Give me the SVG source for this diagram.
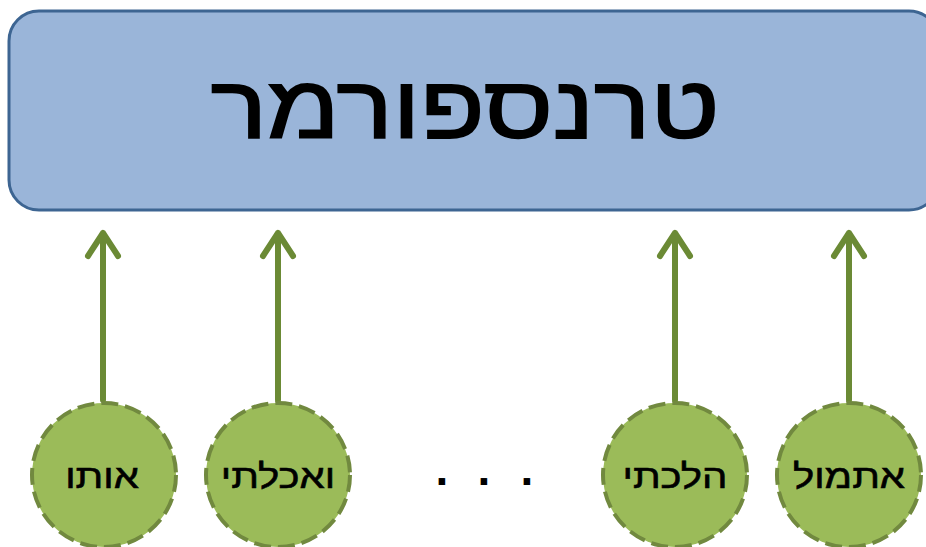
<svg xmlns="http://www.w3.org/2000/svg" width="926" height="547" viewBox="0 0 926 547">
<style>
.lbl{font-family:"Liberation Sans","DejaVu Sans",sans-serif;font-size:34px;fill:#000;stroke:#000;stroke-width:0.6;text-anchor:middle}
.tok{fill:#9bbb59;stroke:#71893f;stroke-width:4;stroke-dasharray:17 7}
.arr{fill:none;stroke:#6b8a35;stroke-width:6;stroke-linecap:round;stroke-linejoin:round}
</style>
<rect width="926" height="547" fill="#fff"/>
<g id="transformer">
<rect x="9" y="11" width="930" height="199" rx="30" ry="30" fill="#9ab5d9" stroke="#3d6592" stroke-width="3"/>
<text transform="translate(465 138) scale(1.2 1)" x="0" y="0" font-family="'Liberation Sans','DejaVu Sans',sans-serif" font-size="88" stroke="#000" stroke-width="1.8" text-anchor="middle" direction="rtl">טרנספורמר</text>
</g>
<g id="connectors">
<path class="arr" d="M103 400V233M88 256L103 233L118 256"/>
<path class="arr" d="M278 400V233M263 256L278 233L293 256"/>
<path class="arr" d="M675 400V233M660 256L675 233L690 256"/>
<path class="arr" d="M849 400V233M834 256L849 233L864 256"/>
</g>
<g id="n1"><circle class="tok" cx="104" cy="475" r="72"/><text class="lbl" transform="translate(102 488) scale(1.18 1)" direction="rtl">אותו</text></g>
<g id="n2"><circle class="tok" cx="278" cy="475" r="72"/><text class="lbl" transform="translate(278 488) scale(1.18 1)" direction="rtl">ואכלתי</text></g>
<g id="dots"><text x="442 484 527" y="485" font-family="Liberation Sans,sans-serif" font-size="46" font-weight="bold" text-anchor="middle">...</text></g>
<g id="n3"><circle class="tok" cx="675" cy="475" r="72"/><text class="lbl" transform="translate(675 488) scale(1.18 1)" direction="rtl">הלכתי</text></g>
<g id="n4"><circle class="tok" cx="849" cy="475" r="72"/><text class="lbl" transform="translate(849 488) scale(1.18 1)" direction="rtl">אתמול</text></g>
</svg>
